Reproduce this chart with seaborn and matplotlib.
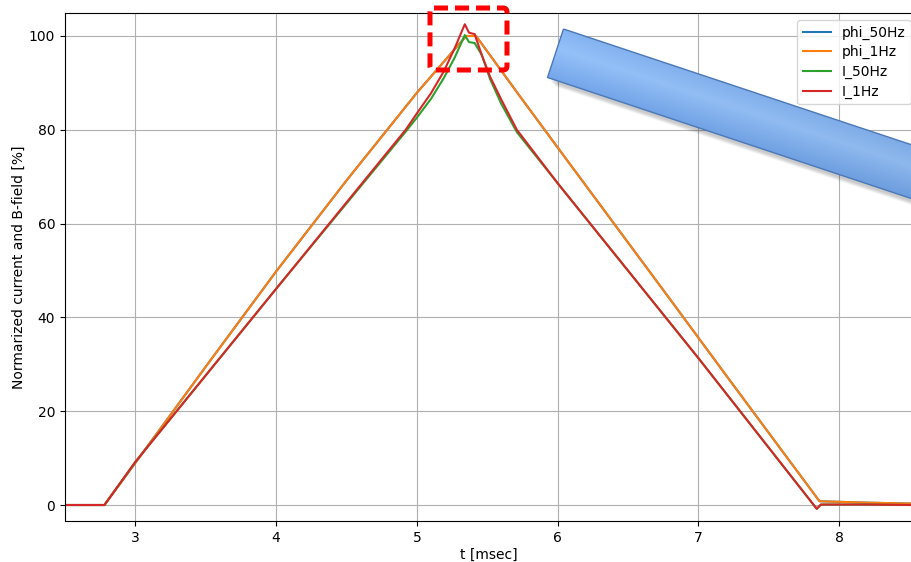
import numpy as np
import pandas as pd
import matplotlib
matplotlib.use("Agg")
import matplotlib.pyplot as plt
from matplotlib.patches import Polygon, FancyBboxPatch
from matplotlib.colors import to_rgb
import seaborn as sns

# ---- measured waveforms -------------------------------------------------
# magnetic flux (B-field), normalized to peak
phi_t = [2.50, 2.78, 3.00, 3.50, 4.00, 4.50, 5.00, 5.35, 5.42, 5.73, 6.02,
         6.40, 6.79, 7.20, 7.60, 7.86, 8.20, 8.52]
phi_50Hz = [0.0, 0.0, 9.0, 29.5, 49.8, 69.2, 87.9, 100.0, 100.0, 87.2, 75.4,
            60.0, 44.2, 27.5, 11.3, 0.8, 0.5, 0.3]
phi_1Hz = [0.0, 0.0, 9.0, 29.5, 49.8, 69.2, 87.9, 100.0, 100.0, 87.2, 75.4,
           60.0, 44.2, 27.5, 11.3, 0.8, 0.5, 0.3]

# coil current, normalized to peak
i_t = [2.50, 2.78, 3.00, 4.00, 4.92, 5.00, 5.10, 5.19, 5.27, 5.34, 5.37,
       5.41, 5.46, 5.52, 5.60, 5.71, 6.00, 7.00, 7.84, 7.87, 8.20, 8.52]
I_50Hz = [0.0, 0.0, 9.2, 46.1, 79.6, 82.6, 86.6, 91.0, 95.5, 100.2, 98.7,
          98.5, 96.0, 90.8, 85.5, 79.5, 68.6, 31.3, -0.8, 0.1, 0.1, 0.0]
I_1Hz = [0.0, 0.0, 9.2, 46.1, 80.0, 83.5, 87.8, 92.4, 97.5, 102.5, 100.7,
         100.4, 96.0, 91.3, 86.4, 80.0, 68.6, 31.3, -0.8, 0.1, 0.1, 0.0]

series = [
    ("phi_50Hz", phi_t, phi_50Hz, "#1f77b4"),
    ("phi_1Hz", phi_t, phi_1Hz, "#ff7f0e"),
    ("I_50Hz", i_t, I_50Hz, "#2ca02c"),
    ("I_1Hz", i_t, I_1Hz, "#d62728"),
]

W, H = 912, 562
fig = plt.figure(figsize=(W / 100, H / 100), dpi=100)
ax = fig.add_axes([65 / W, 41 / H, 848 / W, 508 / H])

for name, t, v, c in series:
    df = pd.DataFrame({"t": t, "v": v})
    sns.lineplot(data=df, x="t", y="v", ax=ax, color=c, label=name,
                 estimator=None, sort=False, linewidth=1.5)

ax.set_xlim(2.5, 8.524)
ax.set_ylim(-3.41, 104.9)
ax.set_xticks([3, 4, 5, 6, 7, 8])
ax.set_yticks([0, 20, 40, 60, 80, 100])
ax.grid(True, color="#b0b0b0", linewidth=0.8)
ax.set_xlabel("t [msec]", labelpad=2)
ax.set_ylabel("Normarized current and B-field [%]", labelpad=2)
ax.legend(loc="upper right", labelspacing=0.4,
          bbox_to_anchor=(1.0 + 5 / 848, 1.0))

# ---- overlay callouts in pixel coordinates -------------------------------
ov = fig.add_axes([0, 0, 1, 1], zorder=10)
ov.set_xlim(0, W)
ov.set_ylim(H, 0)
ov.axis("off")
ov.patch.set_alpha(0)

# dashed red box around the current overshoot
box = FancyBboxPatch((430, 8), 77, 62,
                     boxstyle="round,pad=0,rounding_size=4",
                     fc="none", ec="#ff0000", lw=3.6,
                     linestyle=(0, (2.8, 1.4)))
ov.add_patch(box)

# slanted blue bar
P1 = np.array([563.5, 29.0])
P2 = np.array([547.5, 77.5])
d = np.array([np.cos(np.arctan(0.3327)), np.sin(np.arctan(0.3327))])
L = 700.0
P3 = P2 + L * d
P4 = P1 + L * d
poly_pts = np.array([P1, P2, P3, P4])

# soft shadow below the bar
for k in range(1, 8):
    off = np.array([2.0 + 0.9 * k, 3.0 + 0.9 * k])
    ov.add_patch(Polygon(poly_pts + off, closed=True, fc="#000000",
                         ec="none", alpha=0.03, zorder=1))

# gradient fill across the bar's width, slightly darker toward the far end
n = (P2 - P1) / np.linalg.norm(P2 - P1)
width = np.linalg.norm(P2 - P1)
x0, x1, y0, y1 = 530, W, 15, 290
xs = np.arange(x0, x1) + 0.5
ys = np.arange(y0, y1) + 0.5
X, Y = np.meshgrid(xs, ys)
s = ((X - P1[0]) * n[0] + (Y - P1[1]) * n[1]) / width
s = np.clip(s, 0, 1)[..., None]
u = np.clip(((X - P1[0]) * d[0] + (Y - P1[1]) * d[1]) / 380.0, 0, 1)[..., None]
c_top = np.array(to_rgb("#84b3f1"))
c_mid = np.array(to_rgb("#95c1f9"))
c_bot = np.array(to_rgb("#74a6ea"))
img = np.where(s < 0.4,
               c_top + (c_mid - c_top) * (s / 0.4),
               c_mid + (c_bot - c_mid) * ((s - 0.4) / 0.6))
img = img * (1.0 - 0.05 * u)
im = ov.imshow(img, extent=(x0, x1, y1, y0), origin="upper",
               aspect="auto", interpolation="bilinear", zorder=2)
clip = Polygon(poly_pts, closed=True, fc="none", ec="none",
               transform=ov.transData)
im.set_clip_path(clip)
ov.add_patch(Polygon(poly_pts, closed=True, fc="none", ec="#4a78b8",
                     lw=1.0, zorder=3))
ov.set_xlim(0, W)
ov.set_ylim(H, 0)

fig.savefig("out.png", dpi=100)
